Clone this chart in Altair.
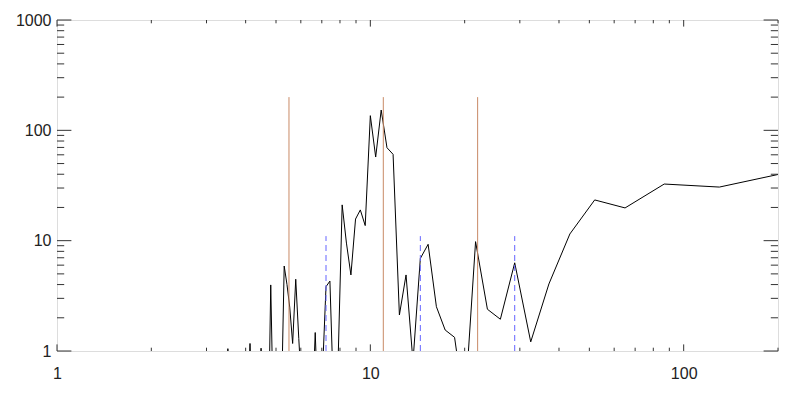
import altair as alt
import pandas as pd

# Spectrum: period (x) and power (y); values below 1 fall under the plot floor
period = [260, 130, 86.67, 65, 52, 43.33, 37.14, 32.5, 28.89, 26,
          23.64, 21.67, 20, 18.57, 17.33, 16.25, 15.29, 14.44, 13.68, 13,
          12.38, 11.82, 11.3, 10.83, 10.4, 10, 9.63, 9.29, 8.97, 8.67,
          8.39, 8.13, 7.88, 7.65, 7.43, 7.22, 7.03, 6.84, 6.67, 6.5,
          6.34, 6.19, 6.05, 5.91, 5.78, 5.65, 5.53, 5.42, 5.31, 5.2,
          5.1, 5.0, 4.91, 4.81, 4.73, 4.64, 4.56, 4.48, 4.41, 4.33,
          4.26, 4.19, 4.13, 4.06, 4.0, 3.94, 3.88, 3.82, 3.77, 3.71,
          3.66, 3.61, 3.56, 3.51, 3.47, 3.42, 3.38, 3.33, 3.29, 3.25]
power = [46.7, 30.6, 32.6, 19.8, 23.4, 11.5, 4.05, 1.21, 6.3, 1.94,
         2.39, 9.8, 0.3, 1.33, 1.55, 2.52, 9.27, 6.9, 0.8, 4.89,
         2.12, 60.6, 69.6, 152.8, 57.3, 135.8, 13.7, 19.0, 15.7, 4.89,
         9.5, 21.1, 0.7, 0.3, 4.3, 3.83, 0.6, 0.2, 1.47, 0.2,
         0.1, 0.1, 0.4, 1.3, 4.47, 1.17, 2.5, 4.0, 5.89, 0.3,
         0.1, 0.1, 0.2, 3.97, 0.2, 0.1, 0.3, 1.06, 0.3, 0.1,
         0.2, 0.4, 1.17, 0.3, 0.1, 0.1, 0.1, 0.1, 0.1, 0.1,
         0.1, 0.1, 0.2, 1.05, 0.2, 0.1, 0.1, 0.1, 0.1, 0.1]

solid_x = [5.5, 11, 22]
solid_bottom = 1
solid_top = 200
dashed_x = [7.22, 14.44, 28.89]
dashed_bottom = 1
dashed_top = 11

x_labels = [1, 10, 100]
x_minor = [2, 3, 4, 5, 6, 7, 8, 9, 20, 30, 40, 50, 60, 70, 80, 90, 200]
y_labels = [1, 10, 100, 1000]
y_minor = [2, 3, 4, 5, 6, 7, 8, 9, 20, 30, 40, 50, 60, 70, 80, 90,
           200, 300, 400, 500, 600, 700, 800, 900]

W, H = 721, 331
FONT = "Liberation Sans"

xs = alt.Scale(type="log", domain=[1, 200], nice=False)
ys = alt.Scale(type="log", domain=[1, 1000], nice=False)

xaxis = alt.Axis(values=x_labels, format="d", ticks=False, domain=False,
                 grid=False, labelFont=FONT, labelFontSize=16,
                 labelColor="#222", labelPadding=14, title=None,
                 labelFlush=False)
yaxis = alt.Axis(values=y_labels, format="d", ticks=False, domain=False,
                 grid=False, labelFont=FONT, labelFontSize=16,
                 labelColor="#222", labelPadding=6, title=None,
                 labelFlush=False)

spec = pd.DataFrame({"period": period, "power": power,
                     "idx": list(range(len(period)))})

line = alt.Chart(spec).mark_line(color="black", strokeWidth=1, clip=True).encode(
    x=alt.X("period:Q", scale=xs, axis=xaxis),
    y=alt.Y("power:Q", scale=ys, axis=yaxis),
    order=alt.Order("idx:Q"),
)

solid = alt.Chart(pd.DataFrame({"x": solid_x, "y0": [solid_bottom] * 3,
                                "y1": [solid_top] * 3})).mark_rule(
    color="#c98a66", strokeWidth=1).encode(
    x=alt.X("x:Q", scale=xs, axis=xaxis),
    y=alt.Y("y0:Q", scale=ys, axis=yaxis), y2="y1:Q")

dashed = alt.Chart(pd.DataFrame({"x": dashed_x, "y0": [dashed_bottom] * 3,
                                 "y1": [dashed_top] * 3})).mark_rule(
    color="#6464ff", strokeWidth=1, strokeDash=[6, 4]).encode(
    x=alt.X("x:Q", scale=xs, axis=xaxis),
    y=alt.Y("y0:Q", scale=ys, axis=yaxis), y2="y1:Q")

tick_color = "#333"

def yticks(vals, x0, x1):
    return alt.Chart(pd.DataFrame({"v": vals})).mark_rule(
        color=tick_color, strokeWidth=1).encode(
        y=alt.Y("v:Q", scale=ys, axis=yaxis), x=alt.value(x0), x2=alt.value(x1))

def xticks(vals, y0, y1):
    return alt.Chart(pd.DataFrame({"v": vals})).mark_rule(
        color=tick_color, strokeWidth=1).encode(
        x=alt.X("v:Q", scale=xs, axis=xaxis), y=alt.value(y0), y2=alt.value(y1))

ticks = [
    yticks(y_labels, 0, 14.4), yticks(y_minor, 0, 7.2),
    yticks(y_labels, W - 14.4, W), yticks(y_minor, W - 7.2, W),
    xticks(x_labels, H, H - 6.6), xticks(x_minor, H, H - 3.3),
    xticks(x_labels, 0, 6.6), xticks(x_minor, 0, 3.3),
]

chart = alt.layer(line, solid, dashed, *ticks).properties(
    width=W, height=H,
    autosize=alt.AutoSizeParams(type="none"),
    padding={"left": 49, "top": 12, "right": 12, "bottom": 36},
).configure_view(stroke="#333", strokeWidth=1).configure(background="white")

chart.save("out.html", embed_options={"renderer": "svg", "actions": False})
